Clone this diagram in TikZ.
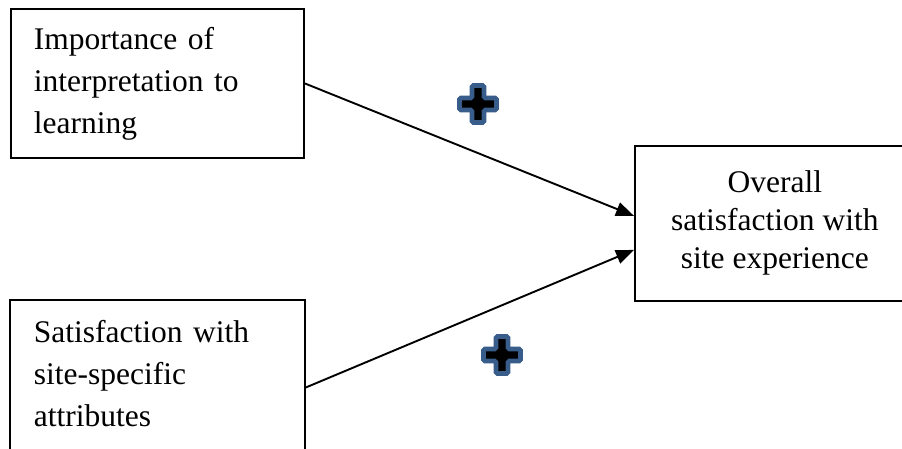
\documentclass[tikz,border=0pt]{standalone}
\usepackage{fontspec}
\setmainfont{Liberation Serif}
\usetikzlibrary{arrows.meta}
\definecolor{plusblue}{HTML}{385D8A}
\tikzset{
  box/.style={draw=black, line width=1.8pt, fill=white, font=\fontsize{31.5}{42}\selectfont},
  leftbox/.style={box, anchor=north west, minimum width=293pt, align=left, text width=247pt, inner xsep=23pt},
  link/.style={line width=1.9pt, -{Triangle[length=18pt,width=14pt]}},
  plussign/.style={fill=black, draw=plusblue, line width=4.8pt, rounded corners=1.5pt}
}
\begin{document}
\begin{tikzpicture}[x=1pt,y=-1pt]
\useasboundingbox (0,0) rectangle (902,448);
\clip (0,0) rectangle (902,448);
\fill[white] (0,0) rectangle (902,448);
\node[leftbox, minimum height=149pt] (imp) at (10,8) {Importance of\\interpretation to\\learning};
\node[leftbox, draw=none, minimum height=145pt] (sat) at (10,300) {Satisfaction with\\site-specific\\attributes};
\draw[line width=1.8pt] (sat.north west) rectangle ([yshift=-30pt]sat.south east);
\node[box, anchor=north west, minimum width=280pt, minimum height=155pt, align=center, font=\fontsize{31.5}{38}\selectfont] (ovr) at (634,145) {Overall\\satisfaction with\\site experience};
\draw[link] (imp.east) -- ([yshift=7.5pt]ovr.west);
\draw[link] ([yshift=-14.5pt]sat.east) -- ([yshift=-26.5pt]ovr.west);
\coordinate (p1) at (478,104);
\coordinate (p2) at (502,355);
\foreach \p in {p1,p2}{
  \draw[plussign] (\p) ++(-6,-18.5) -- ++(12,0) -- ++(0,12.5) -- ++(12.5,0) -- ++(0,12) -- ++(-12.5,0) -- ++(0,12.5) -- ++(-12,0) -- ++(0,-12.5) -- ++(-12.5,0) -- ++(0,-12) -- ++(12.5,0) -- cycle;
}
\end{tikzpicture}
\end{document}
